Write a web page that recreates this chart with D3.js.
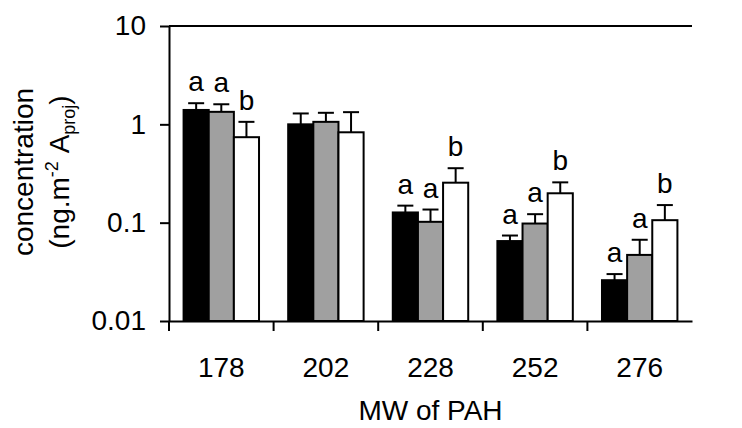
<!DOCTYPE html>
<html>
<head>
<meta charset="utf-8">
<script src="https://cdn.jsdelivr.net/npm/d3@7"></script>
<style>
  body { margin: 0; background: #fff; }
  svg { display: block; }
  text { font-family: "Liberation Sans", Arial, sans-serif; fill: #000; }
</style>
</head>
<body>
<div id="chart"></div>
<script>
// MW of PAH groups
const categories = ["178", "202", "228", "252", "276"];
const series = ["black", "grey", "white"];
const yTicks = [0.01, 0.1, 1, 10];

// mean values and upper end of error bar
const blackVals = [1.40, 1.00, 0.127, 0.065, 0.026];
const blackErr = [1.64, 1.29, 0.149, 0.074, 0.030];
const greyVals = [1.34, 1.06, 0.102, 0.098, 0.047];
const greyErr = [1.60, 1.31, 0.136, 0.122, 0.067];
const whiteVals = [0.74, 0.83, 0.255, 0.199, 0.106];
const whiteErr = [1.06, 1.33, 0.358, 0.257, 0.151];

// significance letters
const blackLetters = ["a", "", "a", "a", "a"];
const greyLetters = ["a", "", "a", "a", "a"];
const whiteLetters = ["b", "", "b", "b", "b"];

const fills = { black: "#000000", grey: "#a0a0a0", white: "#ffffff" };

const width = 742, height = 428;
const plotLeft = 169, plotTop = 26, plotBottom = 321, step = 104.6;
const fs = 28;

const svg = d3.select("#chart").append("svg")
    .attr("width", width)
    .attr("height", height);

const y = d3.scaleLog()
    .domain([0.01, 10])
    .range([plotBottom, plotTop]);

const x0 = d3.scaleBand()
    .domain(categories)
    .range([plotLeft, plotLeft + step * categories.length])
    .padding(0);

const x1 = d3.scaleBand()
    .domain(series)
    .range([0, x0.bandwidth()])
    .paddingInner(0)
    .paddingOuter(0.58);

const table = [];
categories.forEach((c, i) => {
    table.push({ cat: c, s: "black", v: blackVals[i], e: blackErr[i], l: blackLetters[i] });
    table.push({ cat: c, s: "grey", v: greyVals[i], e: greyErr[i], l: greyLetters[i] });
    table.push({ cat: c, s: "white", v: whiteVals[i], e: whiteErr[i], l: whiteLetters[i] });
});

// frame top line
svg.append("line")
    .attr("x1", plotLeft).attr("x2", x0.range()[1])
    .attr("y1", y(10)).attr("y2", y(10))
    .attr("stroke", "#000").attr("stroke-width", 2);

// bars
svg.append("g").selectAll("rect")
    .data(table)
    .join("rect")
    .attr("x", d => x0(d.cat) + x1(d.s))
    .attr("y", d => y(d.v))
    .attr("width", x1.bandwidth())
    .attr("height", d => y(0.01) - y(d.v))
    .attr("fill", d => fills[d.s])
    .attr("stroke", "#000")
    .attr("stroke-width", 2);

// error bars
const capW = 16;
const err = svg.append("g").attr("stroke", "#000").attr("stroke-width", 2);
err.selectAll(".stem")
    .data(table)
    .join("line")
    .attr("class", "stem")
    .attr("x1", d => x0(d.cat) + x1(d.s) + x1.bandwidth() / 2)
    .attr("x2", d => x0(d.cat) + x1(d.s) + x1.bandwidth() / 2)
    .attr("y1", d => y(d.v))
    .attr("y2", d => y(d.e));
err.selectAll(".cap")
    .data(table)
    .join("line")
    .attr("class", "cap")
    .attr("x1", d => x0(d.cat) + x1(d.s) + x1.bandwidth() / 2 - capW / 2)
    .attr("x2", d => x0(d.cat) + x1(d.s) + x1.bandwidth() / 2 + capW / 2)
    .attr("y1", d => y(d.e))
    .attr("y2", d => y(d.e));

// letters
svg.append("g").selectAll("text")
    .data(table.filter(d => d.l))
    .join("text")
    .attr("x", d => x0(d.cat) + x1(d.s) + x1.bandwidth() / 2)
    .attr("y", d => y(d.e) - 12)
    .attr("text-anchor", "middle")
    .attr("font-size", fs)
    .text(d => d.l);

// y axis
const yAxis = svg.append("g")
    .attr("transform", `translate(${plotLeft},0)`)
    .call(d3.axisLeft(y).tickValues(yTicks).tickFormat(d => String(d))
        .tickSize(9).tickSizeOuter(0).tickPadding(14));
yAxis.select(".domain").attr("stroke-width", 2);
yAxis.selectAll(".tick line").attr("stroke-width", 2);
yAxis.selectAll("text").attr("font-size", fs).attr("font-family", null);

// x axis
const xAxis = svg.append("g")
    .attr("transform", `translate(0,${plotBottom})`)
    .call(d3.axisBottom(x0).tickSize(0).tickSizeOuter(0).tickPadding(36));
xAxis.select(".domain").attr("stroke-width", 2);
xAxis.selectAll("text").attr("font-size", fs).attr("font-family", null);

// group boundary ticks
xAxis.selectAll(".bound")
    .data(categories)
    .join("line")
    .attr("class", "bound")
    .attr("x1", d => x0(d)).attr("x2", d => x0(d))
    .attr("y1", 0).attr("y2", 10)
    .attr("stroke", "#000").attr("stroke-width", 2);

// axis titles
svg.append("text")
    .attr("x", x0.range()[0] + step * 2.5)
    .attr("y", 420)
    .attr("text-anchor", "middle")
    .attr("font-size", fs)
    .text("MW of PAH");

const yt = svg.append("text")
    .attr("transform", "translate(33,172) rotate(-90)")
    .attr("text-anchor", "middle")
    .attr("font-size", fs);
yt.append("tspan").attr("x", 0).attr("y", 0).text("concentration");

const yt2 = svg.append("text")
    .attr("transform", "translate(69,172) rotate(-90)")
    .attr("text-anchor", "middle")
    .attr("font-size", fs);
yt2.append("tspan").text("(ng.m");
yt2.append("tspan").attr("font-size", 18).attr("dy", -11).text("-2");
yt2.append("tspan").attr("dy", 11).text("\u00a0A");
yt2.append("tspan").attr("font-size", 18).attr("dy", 6).text("proj");
yt2.append("tspan").attr("dy", -6).text(")");
</script>
</body>
</html>
